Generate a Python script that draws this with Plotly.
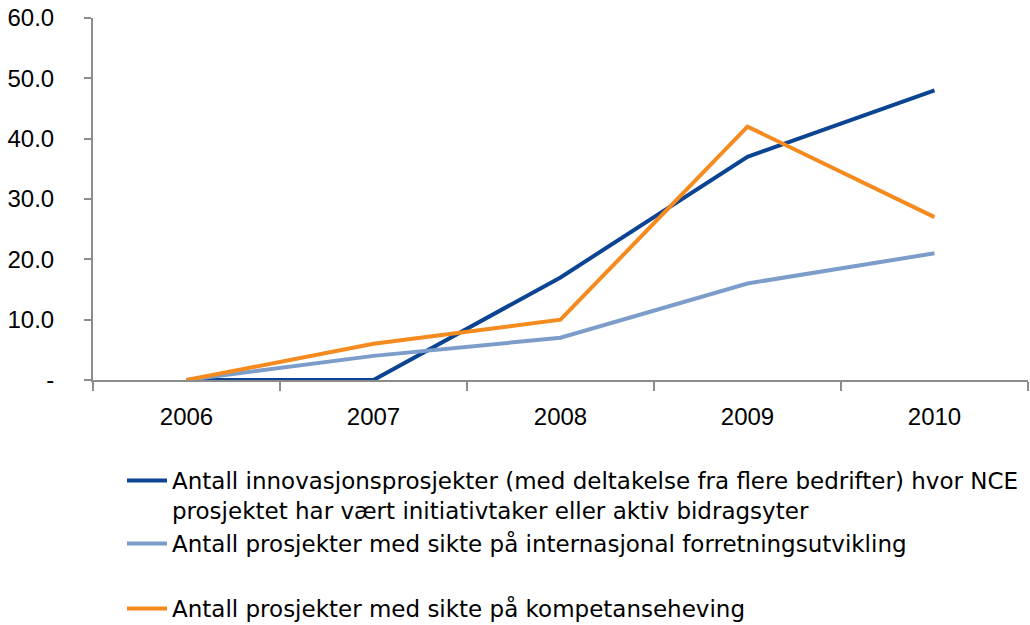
import plotly.graph_objects as go

years = ["2006", "2007", "2008", "2009", "2010"]
innovasjon = [0, 0, 17, 37, 48]
internasjonal = [0, 4, 7, 16, 21]
kompetanse = [0, 6, 10, 42, 27]
y_tickvals = [0, 10, 20, 30, 40, 50, 60]
y_ticktext = ["-", "10.0", "20.0", "30.0", "40.0", "50.0", "60.0"]

names = [
    "Antall innovasjonsprosjekter (med deltakelse fra flere bedrifter) hvor NCE<br>prosjektet har vært initiativtaker eller aktiv bidragsyter",
    "Antall prosjekter med sikte på internasjonal forretningsutvikling",
    "Antall prosjekter med sikte på kompetanseheving",
]
colors = ["#0B4493", "#7C9DC9", "#F58A1F"]
series = [innovasjon, internasjonal, kompetanse]
legends = ["legend", "legend2", "legend3"]

fig = go.Figure()
for name, vals, col, lg in zip(names, series, colors, legends):
    fig.add_trace(go.Scatter(x=years, y=vals, mode="lines", name=name,
                             line=dict(color=col, width=4), legend=lg,
                             showlegend=True))

W, H = 1030, 625

font = dict(family="Liberation Sans, Arial, sans-serif", size=24, color="#000000")
legfont = dict(family="DejaVu Sans, sans-serif", size=23, color="#000000")

def leg(ypx, valign="middle"):
    return dict(xref="container", yref="container", x=122 / W,
                y=1 - ypx / H, xanchor="left", yanchor="top",
                font=legfont, bgcolor="rgba(0,0,0,0)", itemwidth=40,
                valign=valign)

fig.update_layout(
    width=W, height=H,
    showlegend=True,
    margin=dict(l=93, r=2, t=18, b=245, autoexpand=False),
    paper_bgcolor="white", plot_bgcolor="white",
    font=font,
    xaxis=dict(type="category", range=[-0.5, 4.5], showgrid=False,
               showline=True, linecolor="#8C8C8C", linewidth=2,
               ticks="outside", tickson="boundaries", ticklen=9, tickwidth=2,
               tickcolor="#8C8C8C", ticklabelstandoff=14, tickfont=font,
               tickangle=0),
    yaxis=dict(range=[0, 60], tickvals=y_tickvals, ticktext=y_ticktext,
               showgrid=False, zeroline=False, showline=True,
               linecolor="#8C8C8C", linewidth=2, ticks="outside", ticklen=7,
               tickwidth=2, tickcolor="#8C8C8C", ticklabelstandoff=25,
               tickfont=font, ticklabeloverflow="allow"),
    legend=leg(459, "top"),
    legend2=leg(522),
    legend3=leg(587),
)

fig.write_html("out.html", config={"displayModeBar": False},
               post_script="document.body.style.margin='0';")
